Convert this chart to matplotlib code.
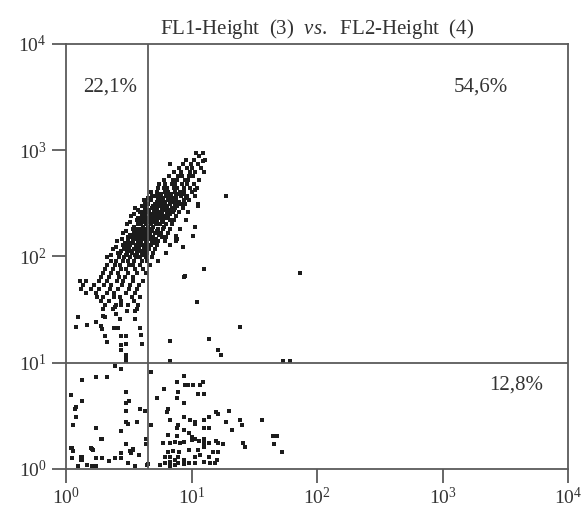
import numpy as np
import matplotlib
matplotlib.use("Agg")
import matplotlib.pyplot as plt

# FL1 vs FL2 dot plot (flow cytometry)

# dense diagonal population: (FL2 value, [FL1 values on that row])
upper_rows = [
    (940.7, [10.86, 12.35]),
    (881.3, [11.48]),
    (807.4, [9.04, 10.47, 12.81]),
    (740.1, [6.74, 8.56, 9.91, 11.27]),
    (678.2, [7.95, 9.21, 10.09, 11.91]),
    (621.5, [7.25, 8.25, 9.73, 10.67, 12.58]),
    (569.8, [6.62, 7.81, 8.40, 9.55, 10.28]),
    (522.1, [6.04, 7.12, 7.66, 8.88, 9.38, 11.48]),
    (478.5, [5.51, 6.15, 6.99, 7.39, 8.40, 9.21, 10.47]),
    (438.5, [5.41, 6.04, 6.38, 7.25, 7.66, 8.71, 9.73, 11.06]),
    (402.0, [4.76, 5.31, 6.15, 6.50, 7.39, 8.10, 8.71, 10.09]),
    (384.8, [5.71, 6.86, 7.81, 8.56]),
    (368.4, [4.85, 5.21, 5.51, 6.26, 6.62, 7.52, 8.25, 9.21, 10.67]),
    (352.6, [4.50, 5.93, 6.99, 9.04]),
    (337.6, [4.18, 4.76, 5.41, 5.71, 6.50, 7.12, 7.52, 8.71, 9.55]),
    (323.2, [4.26, 5.31, 6.15, 6.86, 7.95]),
    (309.4, [4.34, 4.50, 5.12, 5.61, 5.93, 6.74, 7.39, 8.25, 8.88, 11.27]),
    (296.2, [4.03, 4.93, 5.41, 6.38, 7.66]),
    (283.6, [3.55, 4.26, 4.85, 5.12, 5.82, 6.15, 6.99, 7.39, 8.56]),
    (271.5, [3.75, 4.59, 5.31, 6.04, 6.62, 7.25]),
    (259.9, [3.89, 4.18, 4.42, 5.03, 5.51, 5.82, 6.38, 7.12, 7.95, 9.38]),
    (248.9, [3.48, 4.76, 5.21, 5.71, 6.74]),
    (238.2, [3.30, 4.03, 4.26, 4.67, 5.12, 5.41, 6.04, 6.50, 7.52]),
    (228.0, [3.75, 4.42, 4.85, 5.61, 6.26]),
    (218.3, [3.68, 3.89, 4.11, 4.59, 4.93, 5.31, 5.93, 6.74, 7.25, 9.04]),
    (209.0, [3.24, 4.26, 4.67, 5.12, 5.82]),
    (200.1, [3.06, 3.75, 3.96, 4.34, 4.76, 5.21, 5.61, 6.26, 6.99]),
    (191.5, [3.48, 4.11, 4.50, 4.93, 6.04]),
    (183.4, [3.42, 3.61, 3.82, 4.18, 4.59, 4.85, 5.41, 5.93, 6.74, 8.10]),
    (175.5, [3.01, 3.96, 4.34, 4.76, 5.31]),
    (168.0, [2.85, 3.48, 3.68, 4.03, 4.42, 4.67, 5.12, 5.71, 6.50]),
    (160.9, [3.24, 3.82, 4.18, 4.59, 5.51]),
    (154.0, [3.12, 3.30, 3.55, 3.89, 4.26, 4.50, 4.93, 5.82, 6.26, 7.52]),
    (147.4, [2.79, 3.68, 4.11, 4.67, 5.21]),
    (141.1, [2.55, 3.12, 3.42, 3.75, 3.96, 4.34, 4.85, 5.41, 6.15]),
    (135.1, [2.95, 3.36, 3.89, 4.42, 5.03]),
    (129.3, [2.85, 3.01, 3.24, 3.61, 4.11, 4.26, 4.76, 5.31, 6.74]),
    (123.8, [2.50, 3.18, 3.82, 4.50]),
    (118.6, [2.37, 2.90, 3.12, 3.48, 3.75, 4.18, 4.59, 5.12]),
    (113.5, [2.74, 3.30, 3.96, 4.34]),
    (108.6, [2.60, 2.69, 3.06, 3.36, 3.68, 4.03, 4.42, 4.93, 6.26]),
    (104.0, [2.28, 3.01, 3.55, 4.18]),
    (99.6, [2.12, 2.64, 2.90, 3.24, 3.61, 3.89, 4.34, 4.85]),
    (91.2, [2.28, 2.50, 2.85, 3.12, 3.48, 4.03, 4.42, 5.41]),
    (83.6, [2.12, 2.46, 2.69, 3.18, 3.42, 3.89, 4.67]),
    (76.6, [2.05, 2.37, 2.74, 3.01, 3.55, 4.11]),
    (70.2, [1.97, 2.28, 2.60, 3.12, 3.68, 4.34]),
    (64.4, [1.90, 2.20, 2.64, 2.95, 3.42]),
    (59.0, [1.29, 1.44, 1.83, 2.12, 2.55, 2.85, 3.42, 4.11]),
    (54.1, [1.37, 1.67, 2.01, 2.28, 2.79, 3.24, 3.82]),
    (49.6, [1.32, 1.58, 1.83, 2.24, 2.60, 3.18, 3.68]),
    (45.4, [1.44, 1.73, 2.12, 2.41, 3.01, 3.55]),
    (41.6, [1.77, 1.97, 2.41, 2.69, 3.36, 3.89]),
    (38.1, [1.90, 2.20, 2.74, 3.48]),
    (35.0, [2.05, 2.50, 3.12, 3.75]),
]

# scattered events outside the main population
fl1_sparse = [1.20, 1.25, 1.47, 1.73, 1.90, 1.94, 2.05, 2.12, 2.60, 2.74,
              2.74, 2.74, 3.01, 3.01, 3.01, 3.01, 3.89, 3.96, 4.03, 3.55,
              3.55, 3.68, 3.06, 2.69, 2.50, 1.97, 2.37, 2.46, 2.74, 2.41,
              1.97, 2.05, 3.01,
              6.74, 6.74, 11.06, 24.35, 13.79, 16.26, 17.17, 18.82, 12.58,
              8.875, 10.67, 10.28, 73.17, 53.58, 60.95, 10.67, 12.35, 11.27,
              8.56, 7.66, 7.52, 7.52, 8.71]
fl2_sparse = [21.6, 26.9, 22.6, 24.1, 22.1, 20.7, 17.8, 15.6, 21.2, 17.8,
              14.6, 13.1, 17.8, 14.9, 11.75, 11.0, 21.2, 18.2, 14.9, 25.8,
              30.7, 32.0, 30.7, 25.8, 28.7, 32.0, 32.0, 33.5, 35.0, 21.2,
              27.5, 26.9, 10.3,
              15.9, 10.3, 37.3, 21.6, 16.7, 13.1, 11.75, 368.4, 76.6,
              65.8, 191.5, 157.4, 70.2, 10.3, 10.3, 419.9, 790.0, 296.2,
              123.8, 147.4, 157.4, 141.1, 64.4]

# low FL2 events, left of the FL1 gate
fl1_lowleft = [2.46, 2.74, 1.34, 1.73, 2.12, 1.10, 1.34, 3.01, 3.18, 3.01,
               1.18, 1.20, 1.14, 3.01, 3.89, 3.01, 3.12, 3.68, 2.74, 1.73,
               1.94, 4.26, 4.34, 4.34, 3.01, 1.12, 1.14, 1.58, 1.64, 3.24,
               3.42, 2.74, 3.82, 1.12, 1.34, 1.34, 1.73, 1.94, 2.20, 2.46,
               2.74, 1.25, 1.47, 1.61, 1.73, 3.12, 3.55, 4.42, 1.20, 1.10,
               1.61, 1.32, 1.32, 1.90, 3.30, 3.42]
fl2_lowleft = [9.25, 8.66, 6.81, 7.27, 7.27, 5.02, 4.40, 5.36, 4.40, 4.22,
               3.70, 3.11, 2.61, 3.54, 3.70, 2.79, 2.67, 2.79, 2.29, 2.45,
               1.92, 3.54, 1.92, 1.72, 1.72, 1.58, 1.48, 1.58, 1.51, 1.48,
               1.51, 1.42, 1.36, 1.27, 1.30, 1.22, 1.27, 1.27, 1.19, 1.27,
               1.27, 1.07, 1.09, 1.07, 1.07, 1.14, 1.07, 1.09, 3.80, 1.58,
               1.55, 1.30, 1.22, 1.92, 1.42, 1.55]

# low FL2 events, right of the FL1 gate
fl1_lowright = [4.76, 8.71, 7.66, 8.88, 9.38, 10.28, 11.69, 12.35, 6.04, 7.81,
                11.27, 12.58, 5.31, 7.66, 8.71, 6.50, 6.38, 15.68, 16.26, 19.88,
                4.76, 6.74, 8.71, 9.73, 10.67, 10.67, 12.58, 13.79, 18.82, 24.35,
                25.25, 36.46, 7.81, 7.66, 8.71, 12.58, 13.79, 9.55, 21.00, 6.50,
                7.66, 10.09, 10.67, 12.58, 5.93, 6.74, 7.39, 8.10, 8.71, 10.09,
                11.48, 12.58, 13.79, 15.68, 16.26, 17.81, 25.71, 26.67, 44.61, 45.43,
                47.99, 52.61, 6.50, 7.12, 7.95, 9.55, 11.27, 12.58, 14.84, 16.26,
                6.15, 6.74, 7.39, 7.81, 8.71, 10.67, 11.69, 13.79, 15.97, 5.61,
                6.15, 6.74, 7.39, 7.81, 8.71, 9.55, 10.67, 12.58, 14.04, 15.39,
                4.50, 6.74]
fl2_lowright = [8.11, 7.43, 6.52, 6.11, 6.11, 6.11, 6.11, 6.52, 5.72, 5.36,
                5.13, 5.13, 4.70, 4.70, 4.22, 3.70, 3.47, 3.47, 3.32, 3.54,
                2.61, 2.91, 3.11, 2.91, 2.79, 2.67, 2.91, 3.11, 2.79, 2.91,
                2.61, 2.91, 2.61, 2.45, 2.34, 2.45, 2.45, 2.19, 2.34, 2.10,
                2.05, 2.01, 1.92, 1.92, 1.76, 1.76, 1.80, 1.76, 1.80, 1.88,
                1.84, 1.76, 1.76, 1.84, 1.76, 1.72, 1.76, 1.62, 2.05, 1.72,
                2.05, 1.45, 1.45, 1.48, 1.45, 1.51, 1.51, 1.62, 1.45, 1.45,
                1.30, 1.30, 1.22, 1.30, 1.22, 1.30, 1.36, 1.30, 1.22, 1.09,
                1.14, 1.16, 1.09, 1.14, 1.12, 1.14, 1.14, 1.16, 1.14, 1.14,
                1.12, 1.07]

gate_fl1 = 4.5    # vertical quadrant line
gate_fl2 = 10.0   # horizontal quadrant line
quad_labels = ["22,1%", "54,6%", "12,8%"]
decades = [1, 10, 100, 1000, 10000]
tick_text = ["$10^{0}$", "$10^{1}$", "$10^{2}$", "$10^{3}$", "$10^{4}$"]

plt.rcParams['font.family'] = ['Liberation Serif', 'DejaVu Serif']
plt.rcParams['mathtext.fontset'] = 'custom'
plt.rcParams['mathtext.rm'] = 'Liberation Serif'
plt.rcParams['mathtext.it'] = 'Liberation Serif:italic'

fl1_up = []
fl2_up = []
for yv, xs in upper_rows:
    for xv in xs:
        fl1_up.append(xv)
        fl2_up.append(yv)

fig = plt.figure(figsize=(5.82, 5.11), dpi=100)
ax = fig.add_axes([0.1134, 0.0822, 0.8626, 0.8317])

dot = dict(marker='s', s=5.5, color='#1c1c1c', linewidths=0)
ax.scatter(fl1_up, fl2_up, **dot)
ax.scatter(fl1_sparse, fl2_sparse, **dot)
ax.scatter(fl1_lowleft, fl2_lowleft, **dot)
ax.scatter(fl1_lowright, fl2_lowright, **dot)

# quadrant markers
ax.axvline(gate_fl1, color='#5a5a5a', lw=1.3)
ax.axhline(gate_fl2, color='#5a5a5a', lw=1.3)

ax.set_xscale('log')
ax.set_yscale('log')
ax.set_xlim(1, 10000)
ax.set_ylim(1, 10000)
ax.set_xticks(decades)
ax.set_xticklabels(tick_text)
ax.set_yticks(decades)
ax.set_yticklabels(tick_text)
ax.minorticks_off()
ax.tick_params(direction='out', length=10, width=1.3, color='#5a5a5a',
               labelsize=14, labelcolor='#333333')
ax.tick_params(axis='x', pad=3)
ax.tick_params(axis='y', pad=4)
for sp in ax.spines.values():
    sp.set_color('#5a5a5a')
    sp.set_linewidth(1.3)

ax.set_title("FL1-Height  (3)  $\\mathit{vs.}$  FL2-Height  (4)", fontsize=15,
             color='#333333', pad=7)

ax.text(0.088, 0.898, quad_labels[0], transform=ax.transAxes, ha='center',
        va='center', fontsize=15, color='#333333')
ax.text(0.827, 0.898, quad_labels[1], transform=ax.transAxes, ha='center',
        va='center', fontsize=15, color='#333333')
ax.text(0.896, 0.198, quad_labels[2], transform=ax.transAxes, ha='center',
        va='center', fontsize=15, color='#333333')

fig.savefig("out.png", dpi=100)
